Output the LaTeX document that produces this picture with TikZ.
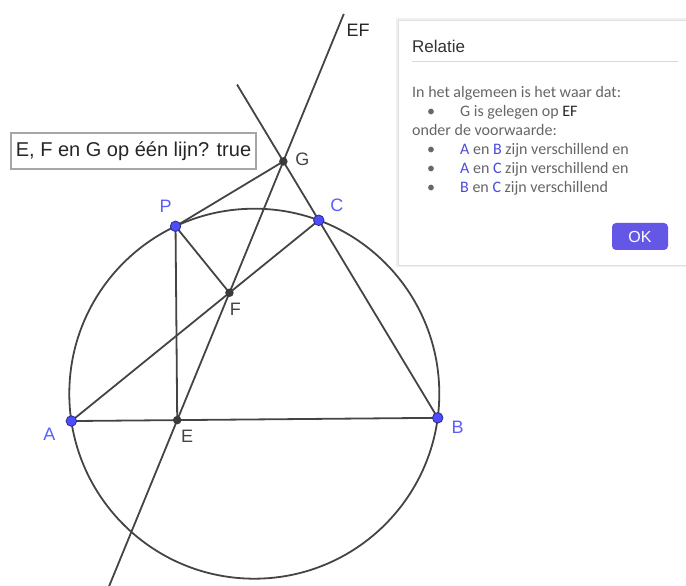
\documentclass[tikz,border=0pt]{standalone}
\usepackage{fontspec}
\setmainfont{Liberation Sans}
\newfontfamily\dlgfont{Carlito}
\usetikzlibrary{calc, positioning}
\definecolor{lijn}{HTML}{444444}
\definecolor{punt}{HTML}{4D4DFF}
\definecolor{puntlabel}{HTML}{5C5CFF}
\definecolor{dlgtekst}{HTML}{666666}
\definecolor{dlgblauw}{HTML}{4B4BD6}
\definecolor{knop}{HTML}{6557E6}

\begin{document}
\begin{tikzpicture}[x=1pt, y=1pt,
    lijnstuk/.style={draw=lijn, line width=1.8pt},
    vrijpunt/.style={circle, fill=punt, draw=punt!55!black, line width=0.8pt, inner sep=0pt, minimum size=10.5pt},
    hulppunt/.style={circle, fill=lijn!85!black, inner sep=0pt, minimum size=8.5pt},
    blauwlabel/.style={text=puntlabel, font=\fontsize{18}{21}\selectfont, inner sep=0pt},
    grijslabel/.style={text=lijn, font=\fontsize{18}{21}\selectfont, inner sep=0pt},
    dlg/.style={text=dlgtekst, font=\dlgfont\fontsize{16}{19}\selectfont, anchor=base west, inner sep=0pt},
    blauw/.style={text=dlgblauw}]
  \useasboundingbox (0,0) rectangle (686,586);
  \coordinate (O) at (254.3,192.3);
  \coordinate (A) at ($(O)+(188.5:185)$);
  \coordinate (B) at ($(O)+(-7.5:185)$);
  \coordinate (C) at ($(O)+(69.6:185)$);
  \coordinate (P) at ($(O)+(115.2:185)$);
  \coordinate (E) at ($(A)!(P)!(B)$);
  \coordinate (F) at ($(A)!(P)!(C)$);
  \coordinate (G) at ($(B)!(P)!(C)$);
  \coordinate (EFtop) at ($(E)!3.19!(F)$);
  \coordinate (EFbot) at ($(E)!-1.35!(F)$);
  \coordinate (BCtop) at ($(B)!1.3!(G)$);

  \draw[lijnstuk] (O) circle (185);
  \draw[lijnstuk] (EFbot) -- (EFtop);
  \draw[lijnstuk] (B) -- (BCtop);
  \draw[lijnstuk] (A) -- (B);
  \draw[lijnstuk] (A) -- (C);
  \draw[lijnstuk] (P) -- (E);
  \draw[lijnstuk] (P) -- (F);
  \draw[lijnstuk] (P) -- (G);

  \node[hulppunt] (pE) at (E) {};
  \node[hulppunt] (pF) at (F) {};
  \node[hulppunt] (pG) at (G) {};
  \node[vrijpunt] (pA) at (A) {};
  \node[vrijpunt] (pB) at (B) {};
  \node[vrijpunt] (pC) at (C) {};
  \node[vrijpunt] (pP) at (P) {};

  \node[blauwlabel] (lA) at ($(A)+(-22,-13)$) {A};
  \node[blauwlabel] (lB) at ($(B)+(20,-9)$) {B};
  \node[blauwlabel] (lC) at ($(C)+(18,15)$) {C};
  \node[blauwlabel] (lP) at ($(P)+(-10,20)$) {P};
  \node[grijslabel] (lE) at ($(E)+(10,-16)$) {E};
  \node[grijslabel] (lF) at ($(F)+(6,-17)$) {F};
  \node[grijslabel] (lG) at ($(G)+(19,2)$) {G};
  \node[grijslabel, text=black!85] (lEF) at (358,556) {EF};

  \draw[draw=gray!70, line width=1.2pt] (11,417) rectangle (256,453);
  \node[text=black!85, font=\fontsize{20}{24}\selectfont] (vraag) at (133.5,435) {E, F en G op één lijn? true};

  \fill[black!6] (396,319) rectangle (690,568);
  \draw[draw=black!12, fill=white] (398,321) rectangle (690,566);
  \node[anchor=base west, inner sep=0pt, text=black!80, font=\fontsize{17}{20}\selectfont] (titel) at (412,533) {Relatie};
  \draw[black!15, line width=0.8pt] (412,525) -- (678,525);
  \node[dlg] (r1) at (412,488) {In het algemeen is het waar dat:};
  \node[dlg] (b1) at (427,469) {•};
  \node[dlg] (r2) at (460,469) {G is gelegen op \textcolor{black!85}{EF}};
  \node[dlg] (r3) at (412,450) {onder de voorwaarde:};
  \node[dlg] (b2) at (427,431) {•};
  \node[dlg] (r4) at (460,431) {\textcolor{dlgblauw}{A} en \textcolor{dlgblauw}{B} zijn verschillend en};
  \node[dlg] (b3) at (427,412) {•};
  \node[dlg] (r5) at (460,412) {\textcolor{dlgblauw}{A} en \textcolor{dlgblauw}{C} zijn verschillend en};
  \node[dlg] (b4) at (427,393) {•};
  \node[dlg] (r6) at (460,393) {\textcolor{dlgblauw}{B} en \textcolor{dlgblauw}{C} zijn verschillend};
  \node[fill=knop, rounded corners=4pt, minimum width=56pt, minimum height=27pt, text=white, font=\fontsize{16}{19}\selectfont] (ok) at (640,349.5) {OK};
\end{tikzpicture}
\end{document}
